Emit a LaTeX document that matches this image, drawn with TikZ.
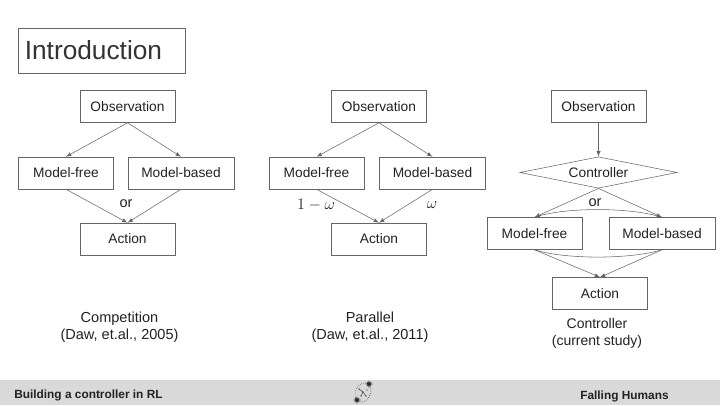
\documentclass[tikz,border=0pt]{standalone}
\usepackage{fontspec}
\setmainfont{Liberation Sans}
\usepackage{amsmath}
\usetikzlibrary{arrows,shapes.geometric}
\definecolor{textgray}{HTML}{222222}
\definecolor{titlegray}{HTML}{333333}
\definecolor{linegray}{HTML}{666666}
\definecolor{footgray}{HTML}{D9D9D9}
\tikzset{
    flowbox/.style={draw=linegray, fill=white, minimum width=71.5pt, minimum height=24pt, inner sep=0pt, text=textgray, font=\fontsize{10.3}{12}\selectfont},
    widebox/.style={flowbox, minimum width=79.5pt},
    flowline/.style={draw=linegray, -latex},
    plainlabel/.style={inner sep=0pt, text=textgray, align=center, font=\fontsize{10.9}{12.8}\selectfont},
    footlabel/.style={inner sep=0pt, text=textgray, font=\fontsize{8.9}{10}\selectfont\bfseries}
}
\begin{document}
\begin{tikzpicture}[x=0.75pt, y=-0.75pt]
\useasboundingbox (0, 0) rectangle (720, 405);
\fill[white] (0, 0) rectangle (720, 405);
\fill[footgray] (0, 380) rectangle (720, 405);

\node[draw=linegray, text width=115pt, minimum height=34pt, inner xsep=5pt, inner ysep=0pt, align=left, text=titlegray, font=\fontsize{19.7}{22}\selectfont] (title) at (101.5, 50.5) {Introduction};

\node[flowbox] (obsA) at (127.5, 106.5) {Observation};
\node[flowbox] (freeA) at (66, 173) {Model-free};
\node[widebox] (basedA) at (181, 173) {Model-based};
\node[flowbox] (actA) at (127.5, 239) {Action};
\node[flowbox] (obsB) at (379, 106.5) {Observation};
\node[flowbox] (freeB) at (316.5, 173) {Model-free};
\node[widebox] (basedB) at (432.5, 173) {Model-based};
\node[flowbox] (actB) at (379, 239) {Action};
\node[flowbox] (obsC) at (598.5, 106.5) {Observation};
\node[draw=linegray, diamond, aspect=5, minimum width=118pt, minimum height=23.5pt, inner sep=0pt, text=textgray, font=\fontsize{10.3}{12}\selectfont] (ctrl) at (598.5, 172.5) {Controller};
\node[flowbox] (freeC) at (534.5, 233.5) {Model-free};
\node[widebox] (basedC) at (662, 233.5) {Model-based};
\node[flowbox] (actC) at (600, 293.5) {Action};

\foreach \c in {A, B} {
    \draw[flowline] (obs\c.south) -- (free\c.north);
    \draw[flowline] (obs\c.south) -- (based\c.north);
    \draw[flowline] (free\c.south) -- (act\c.north);
    \draw[flowline] (based\c.south) -- (act\c.north);
}
\draw[flowline] (obsC.south) -- (ctrl.north);
\draw[flowline] (ctrl.south) -- (freeC.north);
\draw[flowline] (ctrl.south) -- (basedC.north);
\draw[flowline] (freeC.south) -- (actC.north);
\draw[flowline] (basedC.south) -- (actC.north);
\draw[linegray] (freeC.north) .. controls (565, 207) and (630, 207) .. (basedC.north);
\draw[linegray] (freeC.south) .. controls (565, 259.5) and (630, 259.5) .. (basedC.south);

\node[plainlabel] (orA) at (126, 204) {or};
\node[plainlabel] (orC) at (595, 203) {or};
\node[plainlabel, font=\fontsize{12}{14}\selectfont] (weightA) at (316, 205) {$1-\omega$};
\node[plainlabel, font=\fontsize{12}{14}\selectfont] (weightB) at (432, 205) {$\omega$};

\node[plainlabel] (capA) at (119.5, 327) {Competition\\(Daw, et.al., 2005)};
\node[plainlabel] (capB) at (370, 327) {Parallel\\(Daw, et.al., 2011)};
\node[plainlabel, font=\fontsize{10.5}{12.8}\selectfont] (capC) at (597, 333.5) {Controller\\(current study)};

\node[footlabel, anchor=west] (footA) at (14, 395) {Building a controller in RL};
\node[footlabel, anchor=west] (footB) at (580, 396) {Falling Humans};

\draw[textgray, densely dotted, rotate around={-25:(363, 392.5)}] (363, 392.5) ellipse (7.5 and 10);
\foreach \x/\y in {359/389, 363/392, 366/396, 361/396, 367/390}
    \fill[textgray] (\x, \y) circle(0.7);
\draw[textgray, line width=0.3pt] (359, 389) -- (363, 392) -- (361, 396) (363, 392) -- (366, 396);
\foreach \x/\y in {369/384, 357/400} {
    \fill[textgray] (\x, \y) circle(1.8);
    \draw[textgray, shift={(\x,\y)}] (-3.5, 0) -- (3.5, 0) (0, -3.5) -- (0, 3.5) (-2.2, -2.2) -- (2.2, 2.2) (-2.2, 2.2) -- (2.2, -2.2);
}
\end{tikzpicture}
\end{document}
